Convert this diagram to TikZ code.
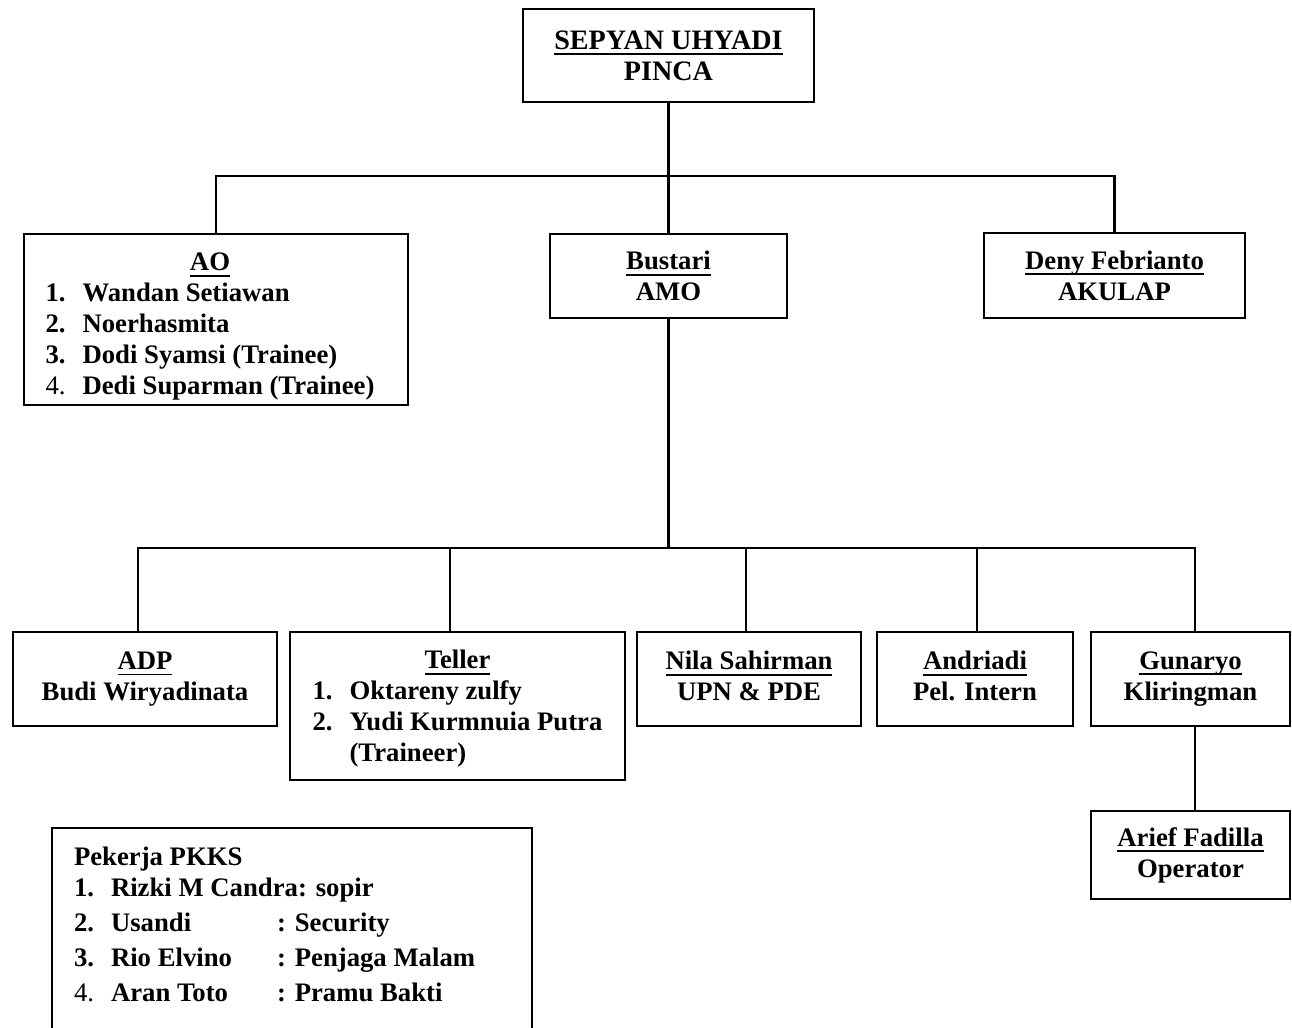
\documentclass[tikz,border=0pt]{standalone}
\usepackage{fontspec}
\setmainfont{Liberation Serif}
\usepackage{array}
\usetikzlibrary{positioning}

% underline for the heading of a box, a bit thicker than \underline
\newsavebox{\hdbox}
\newcommand{\hd}[1]{\sbox\hdbox{#1}\rlap{\rule[-3.4pt]{\wd\hdbox}{1.1pt}}\usebox\hdbox}

\tikzset{
    unit/.style={draw, line width=1.5pt, align=center, inner sep=0pt,
        font=\bfseries\fontsize{15.2}{17.6}\selectfont},
    sized/.style 2 args={minimum width=#1*0.2mm, minimum height=#2*0.2mm},
    link/.style={line width=1.5pt}
}

\begin{document}
\begin{tikzpicture}[x=0.2mm, y=-0.2mm]
        % one unit is one pixel of the original chart, y grows downwards
        \useasboundingbox (0,0) rectangle (1292,1028);
        \clip (0,0) rectangle (1292,1028);

        % top and second level
        \node[unit, sized={291}{93}, font=\bfseries\fontsize{16}{17.6}\selectfont] (pinca)
            at (668.5,55.5) {\hd{SEPYAN UHYADI}\\PINCA};
        % the strut in the heading row pushes the list a little down
        \node[unit, sized={384}{171}] (ao) at (216,319.5) {%
            \begin{tabular}{@{}p{7.4mm}@{}l@{}}
            \multicolumn{2}{@{}c@{}}{\rule{0pt}{20.2pt}\hd{AO}}\\
            1. & Wandan Setiawan\\
            2. & Noerhasmita\\
            3. & Dodi Syamsi (Trainee)\\
            \textmd{4.} & Dedi Suparman (Trainee)
            \end{tabular}\kern2.4mm};
        \node[unit, sized={237}{84}] (bustari) at (668.5,276) {\hd{Bustari}\\AMO};
        \node[unit, sized={261}{85}] (deny) at (1114.5,275.5) {\hd{Deny Febrianto}\\AKULAP};

        % third level, under the AMO
        \node[unit, sized={264}{94}] (adp) at (145,679) {\hd{ADP}\\Budi Wiryadinata};
        \node[unit, sized={335}{148}] (teller) at (457.5,706) {%
            \begin{tabular}{@{}p{7.4mm}@{}l@{}}
            \multicolumn{2}{@{}c@{}}{\rule{0pt}{15.7pt}\hd{Teller}}\\
            1. & Oktareny zulfy\\
            2. & Yudi Kurmnuia Putra\\
               & (Traineer)
            \end{tabular}};
        \node[unit, sized={224}{94}] (nila) at (749,679) {\hd{Nila Sahirman}\\UPN \& PDE\vphantom{y}};
        \node[unit, sized={196}{94}] (andriadi) at (975,679) {\hd{Andriadi}\\Pel. Intern\vphantom{y}};
        \node[unit, sized={199}{94}] (gunaryo) at (1190.5,679) {\hd{Gunaryo}\\Kliringman};
        \node[unit, sized={199}{88}] (arief) at (1190.5,855) {\hd{Arief Fadilla}\\Operator};

        % the PKKS box runs off the bottom of the page
        \node[unit, sized={480}{240}] (pekerja) at (292,948) {};
        \node[below right=3.4mm and 4.6mm of pekerja.north west, inner sep=0pt,
            font=\bfseries\fontsize{15.2}{17.6}\selectfont] (pkks) {%
            \begin{tabular}{@{}p{7.4mm}@{}p{33.2mm}@{}l@{}}
            \multicolumn{3}{@{}l@{}}{Pekerja PKKS}\\
            1. & \multicolumn{2}{@{}l@{}}{Rizki M Candra: sopir}\\[0.8mm]
            2. & Usandi & : Security\\[0.8mm]
            3. & Rio Elvino & : Penjaga Malam\\[0.8mm]
            \textmd{4.} & Aran Toto & : Pramu Bakti
            \end{tabular}};

        % connectors
        \coordinate (topbar) at (668.5,176);
        \coordinate (lowbar) at (668.5,548);
        \draw[link] (pinca) -- (bustari);
        \draw[link] (ao.north) |- (topbar) -| (deny.north);
        \draw[link] (bustari) -- (lowbar);
        \draw[link] (lowbar) -| ([xshift=-1.4mm]adp.north);
        \draw[link] (lowbar) -| ([xshift=-1.5mm]teller.north);
        \draw[link] (lowbar) -| ([xshift=-0.6mm]nila.north);
        \draw[link] (lowbar) -| ([xshift=0.4mm]andriadi.north);
        \draw[link] (lowbar) -| ([xshift=0.9mm]gunaryo.north);
        \draw[link] ([xshift=0.9mm]gunaryo.south) -- ([xshift=0.9mm]arief.north);
\end{tikzpicture}
\end{document}
